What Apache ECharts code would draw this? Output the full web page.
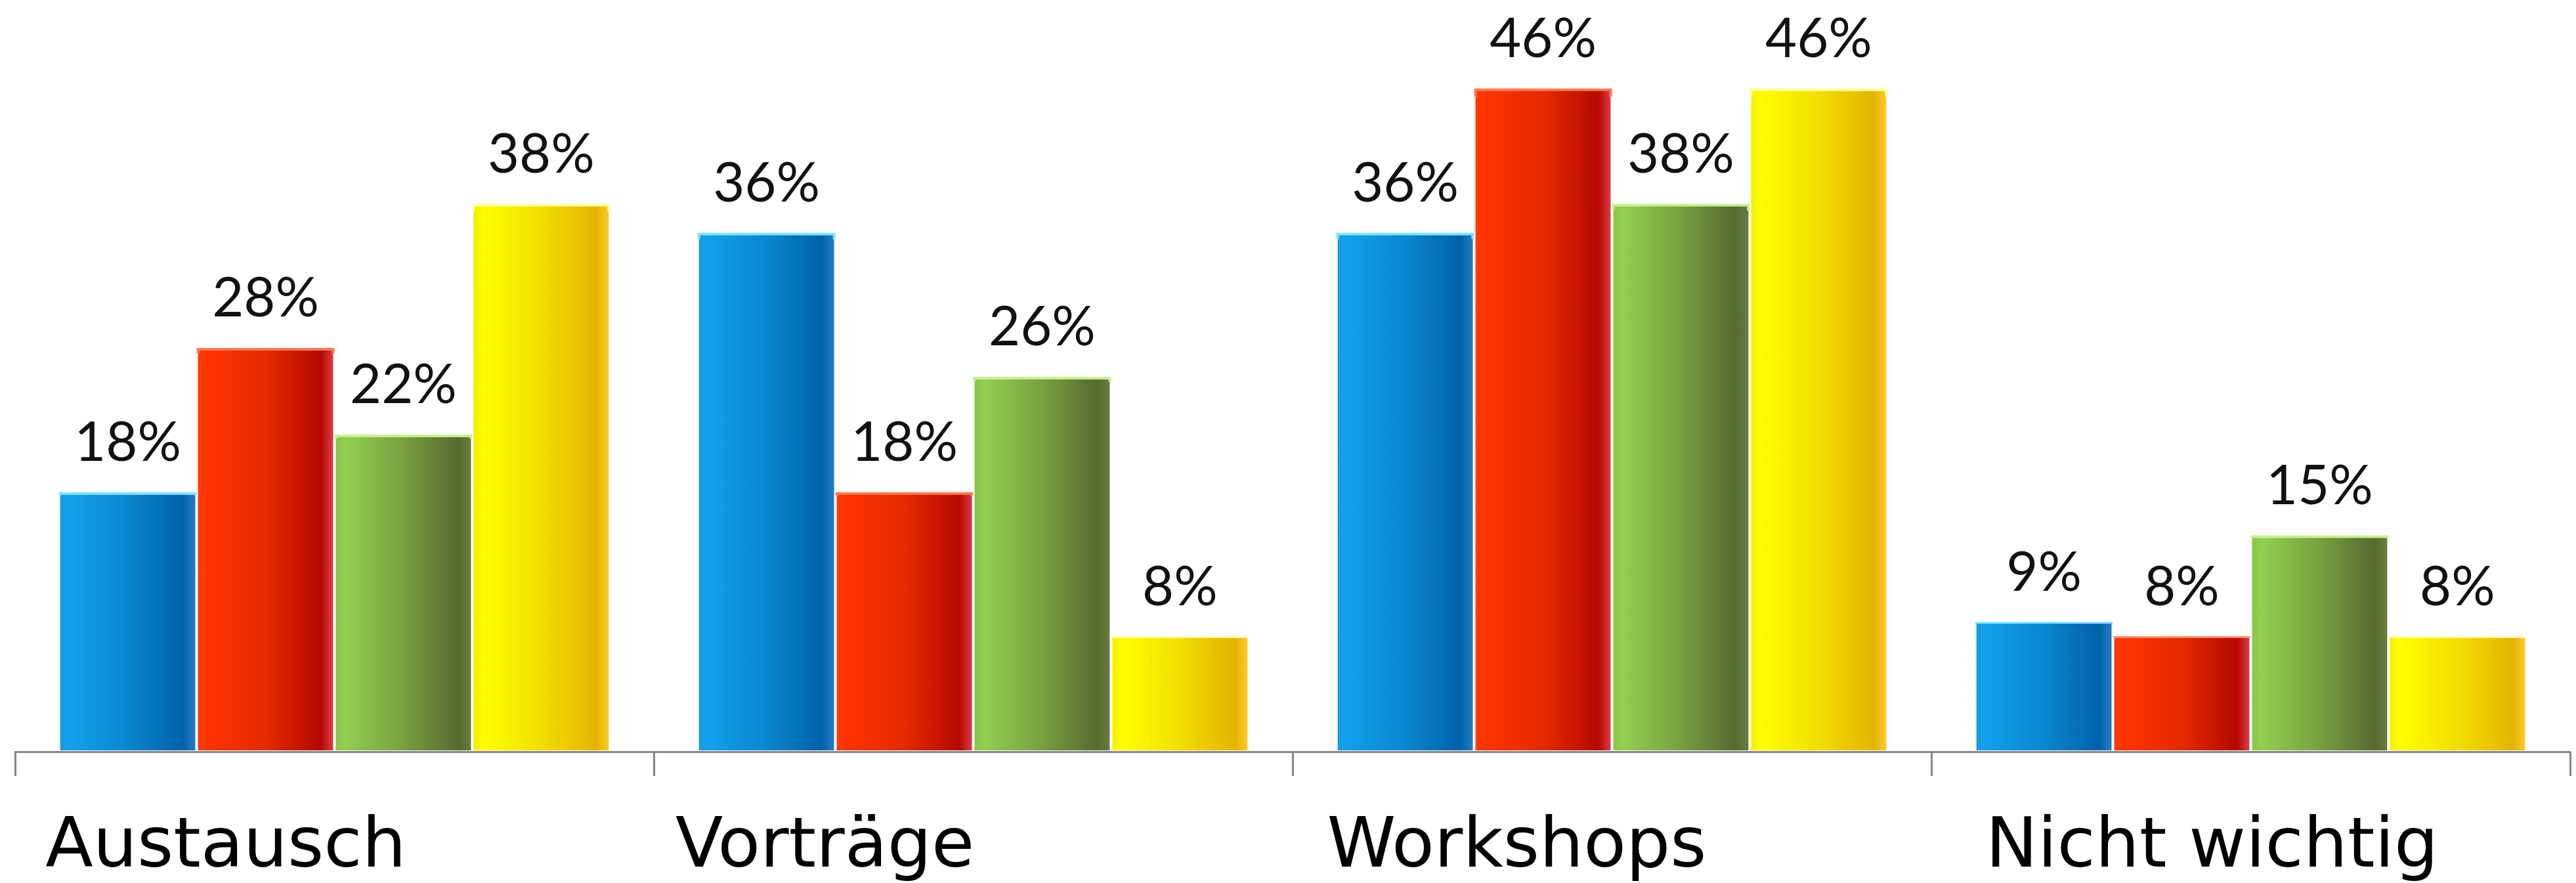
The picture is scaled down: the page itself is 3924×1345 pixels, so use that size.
<!DOCTYPE html>
<html>
<head>
<meta charset="utf-8">
<script src="https://cdn.jsdelivr.net/npm/echarts@6/dist/echarts.min.js"></script>
<style>
html,body{margin:0;padding:0;background:#ffffff;}
#chart{width:3924px;height:1345px;}
</style>
</head>
<body>
<div id="chart"></div>
<script>
const categories = ['Austausch', 'Vorträge', 'Workshops', 'Nicht wichtig'];
const seriesBlue = [18, 36, 36, 9];
const seriesRed = [28, 18, 46, 8];
const seriesGreen = [22, 26, 38, 15];
const seriesYellow = [38, 8, 46, 8];

const labelShift = [331, 452, 290, 118];

function grad(stops) {
  return new echarts.graphic.LinearGradient(0, 0, 1, 0,
    stops.map(function (s) { return { offset: s[0], color: s[1] }; }));
}
function topEdge(c) {
  return new echarts.graphic.LinearGradient(0, 0, 0, 1, [
    { offset: 0, color: c },
    { offset: 0.012, color: c },
    { offset: 0.013, color: 'rgba(255,255,255,0)' },
    { offset: 1, color: 'rgba(255,255,255,0)' }
  ]);
}

const colorDefs = [
  grad([[0, '#1a98de'], [0.06, '#12a2ea'], [0.5, '#0a86d0'], [0.9, '#0062a8'], [1, '#2a7fc4']]),
  grad([[0, '#ff3c08'], [0.08, '#ff3300'], [0.5, '#e42a00'], [0.9, '#b50800'], [1, '#e04050']]),
  grad([[0, '#86c44c'], [0.08, '#92d050'], [0.5, '#78a040'], [0.9, '#566a30'], [1, '#6a8040']]),
  grad([[0, '#f2ec00'], [0.08, '#ffff00'], [0.5, '#f2de00'], [0.9, '#e4b400'], [1, '#ffcc30']])
];
const edgeColors = ['#7fe4ff', '#ff7a50', '#c8f090', '#ffffa0'];

function makeSeries(name, data, idx) {
  return {
    name: name,
    type: 'bar',
    data: data,
    barGap: '0%',
    barCategoryGap: '13.7%',
    itemStyle: {
      color: colorDefs[idx],
      borderColor: topEdge(edgeColors[idx]),
      borderWidth: 4
    },
    label: {
      show: true,
      position: 'top',
      distance: 33,
      formatter: '{c}%',
      fontFamily: 'Lato',
      fontSize: 83,
      color: '#111111'
    },
    emphasis: { disabled: true }
  };
}

const rich = {};
labelShift.forEach(function (p, i) {
  rich['c' + i] = {
    fontFamily: 'DejaVu Sans',
    fontSize: 106,
    color: '#000000',
    padding: [0, p, 0, 0]
  };
});

const chart = echarts.init(document.getElementById('chart'), null, { renderer: 'canvas' });
chart.setOption({
  backgroundColor: '#ffffff',
  animation: false,
  grid: { left: 23, right: 9, top: 47, bottom: 200, containLabel: false },
  xAxis: {
    type: 'category',
    data: categories,
    axisLine: { show: true, lineStyle: { color: '#868686', width: 3 } },
    axisTick: { show: true, length: 37, lineStyle: { color: '#868686', width: 3 } },
    axisLabel: {
      margin: 94,
      interval: 0,
      formatter: function (v, i) { return '{c' + i + '|' + v + '}'; },
      rich: rich
    }
  },
  yAxis: {
    type: 'value',
    min: 0,
    max: 50,
    show: false,
    splitLine: { show: false }
  },
  series: [
    makeSeries('s1', seriesBlue, 0),
    makeSeries('s2', seriesRed, 1),
    makeSeries('s3', seriesGreen, 2),
    makeSeries('s4', seriesYellow, 3)
  ]
});
</script>
</body>
</html>
